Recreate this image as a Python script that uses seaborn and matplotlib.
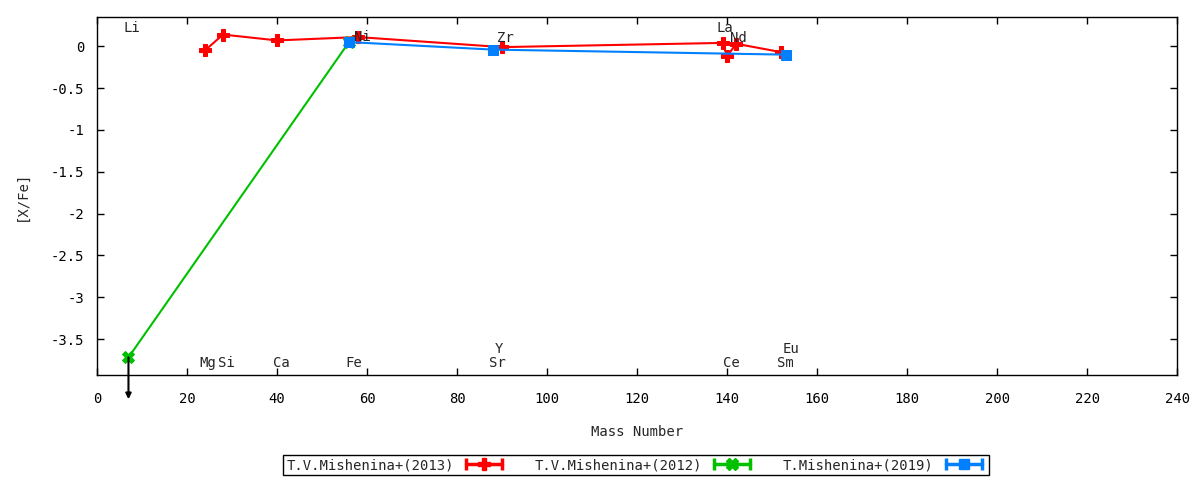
import matplotlib
matplotlib.use('Agg')
import matplotlib.pyplot as plt
from matplotlib.lines import Line2D
from matplotlib.legend_handler import HandlerLine2D, HandlerTuple
import seaborn as sns
import pandas as pd

# T.V.Mishenina+(2013)
mass_2013 = [24, 28, 40, 58, 90, 139, 140, 142, 152]
xfe_2013 = [-0.05, 0.14, 0.07, 0.11, -0.01, 0.04, -0.12, 0.03, -0.07]

# T.V.Mishenina+(2012)  (Li is an upper limit)
mass_2012 = [7, 56]
xfe_2012 = [-3.72, 0.05]

# T.Mishenina+(2019)
mass_2019 = [56, 88, 153]
xfe_2019 = [0.05, -0.04, -0.10]

# element labels (name, mass, label y)
labels = [('Li', 7.8, 0.22), ('Ni', 59.0, 0.11), ('Zr', 90.8, 0.10),
          ('La', 139.5, 0.22), ('Nd', 142.6, 0.10),
          ('Mg', 24.7, -3.79), ('Si', 28.7, -3.79), ('Ca', 41.0, -3.79),
          ('Fe', 57.0, -3.79), ('Y', 89.3, -3.62), ('Sr', 88.9, -3.79),
          ('Ce', 141.0, -3.79), ('Sm', 153.0, -3.79), ('Eu', 154.2, -3.62)]

sns.set_theme(style='ticks')
plt.rcParams['font.family'] = ['DejaVu Sans Mono']
plt.rcParams['font.size'] = 9.5

fig = plt.figure(figsize=(12, 4.8), dpi=100)
ax = fig.add_axes([0.0808, 0.2188, 0.9002, 0.7458])

series = [
    ('T.V.Mishenina+(2013)', mass_2013, xfe_2013, '#ff0000', 'P', 8),
    ('T.V.Mishenina+(2012)', mass_2012, xfe_2012, '#00c000', 'X', 8),
    ('T.Mishenina+(2019)', mass_2019, xfe_2019, '#0080ff', 's', 7),
]

handles = []
hmap = {}
for name, xs, ys, col, mk, ms in series:
    df = pd.DataFrame({'mass': xs, 'xfe': ys})
    sns.lineplot(data=df, x='mass', y='xfe', ax=ax, color=col, marker=mk,
                 markersize=ms, markeredgecolor=col, linewidth=1.5,
                 legend=False)
    caps = Line2D([], [], color=col, linewidth=2.5, marker='|',
                  markersize=8, markeredgewidth=2.5)
    mid = Line2D([], [], color=col, linestyle='none', marker=mk,
                 markersize=ms, markeredgecolor=col)
    hmap[caps] = HandlerLine2D(numpoints=2)
    hmap[mid] = HandlerLine2D(numpoints=1)
    handles.append((caps, mid))

# upper-limit arrow for Li
ax.annotate('', xy=(7, -4.22), xytext=(7, -3.72), xycoords='data',
            annotation_clip=False,
            arrowprops=dict(arrowstyle='-|>', color='black', lw=1.5,
                            mutation_scale=8, shrinkA=0, shrinkB=0))

for name, x, y in labels:
    ax.text(x, y, name, ha='center', va='center', fontsize=10)

ax.set_xlim(0, 240)
ax.set_ylim(-3.93, 0.35)
ax.set_xticks(range(0, 241, 20))
ax.set_yticks([0, -0.5, -1, -1.5, -2, -2.5, -3, -3.5])
ax.set_yticklabels(['0', '-0.5', '-1', '-1.5', '-2', '-2.5', '-3', '-3.5'])
ax.tick_params(direction='in', top=True, right=True, length=5,
               labelsize=10, colors='black', width=1)
ax.tick_params(axis='x', pad=12)
ax.tick_params(axis='y', pad=9)
for sp in ax.spines.values():
    sp.set_color('black')
    sp.set_linewidth(1)
ax.set_xlabel('Mass Number', fontsize=10, labelpad=14)
ax.set_ylabel('[X/Fe]', fontsize=10, labelpad=16)

hmap[tuple] = HandlerTuple(ndivide=None, pad=0)
for h in handles:
    hmap[h] = HandlerTuple(ndivide=1, pad=0)
leg = fig.legend(handles, [s[0] for s in series], handler_map=hmap,
                 loc='center', bbox_to_anchor=(0.53, 0.031), ncol=3,
                 markerfirst=False, fancybox=False, framealpha=1,
                 edgecolor='black', fontsize=10, handlelength=3.2,
                 columnspacing=2.0, borderpad=0.2, handletextpad=0.6)
leg.get_frame().set_linewidth(1)

fig.savefig('out.png', dpi=100)
